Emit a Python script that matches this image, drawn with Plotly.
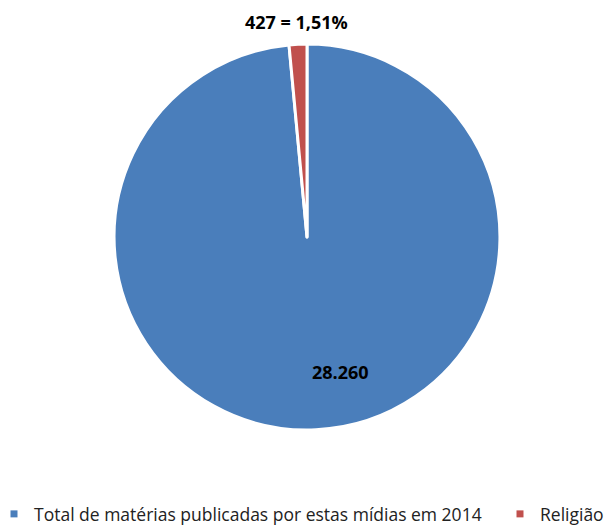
import plotly.graph_objects as go

labels = ["Total de matérias publicadas por estas mídias em 2014", "Religião"]
values = [28260, 427]
colors = ["#4A7EBB", "#C0504D"]
slice_texts = ["28.260", "427 = 1,51%"]

W, H = 608, 525

fig = go.Figure()
fig.add_trace(go.Pie(
    labels=labels,
    values=values,
    sort=False,
    direction="clockwise",
    rotation=0,
    marker=dict(colors=colors, line=dict(color="white", width=3)),
    textinfo="none",
    hoverinfo="label+value",
    showlegend=False,
    domain=dict(x=[0.1875, 0.8224], y=[0.181, 0.916]),
))

# legend entries: one per slice, each in its own legend box
legend_ids = ["legend", "legend2"]
for lab, col, lid in zip(labels, colors, legend_ids):
    fig.add_trace(go.Scatter(
        x=[None], y=[None], mode="markers", name=lab,
        marker=dict(symbol="square", size=7, color=col),
        legend=lid, showlegend=True, hoverinfo="skip",
    ))

ann_font = dict(size=18, color="black", family="Open Sans")
fig.add_annotation(text="<b>" + slice_texts[1] + "</b>", x=296/W, y=1-22/H,
                   xref="paper", yref="paper", showarrow=False,
                   xanchor="center", yanchor="middle", font=ann_font)
fig.add_annotation(text="<b>" + slice_texts[0] + "</b>", x=340/W, y=1-372/H,
                   xref="paper", yref="paper", showarrow=False,
                   xanchor="center", yanchor="middle", font=ann_font)

leg_common = dict(orientation="h", xanchor="left", yanchor="bottom", y=-7/H,
                  font=dict(size=17.5, color="#222"), itemsizing="trace",
                  bgcolor="rgba(0,0,0,0)")

fig.update_layout(
    width=W, height=H,
    margin=dict(l=0, r=0, t=0, b=0, autoexpand=False),
    paper_bgcolor="white",
    plot_bgcolor="white",
    xaxis=dict(visible=False),
    yaxis=dict(visible=False),
    font=dict(family="Open Sans", size=15, color="#222"),
    showlegend=True,
    legend=dict(x=-6/W, **leg_common),
    legend2=dict(x=500/W, **leg_common),
)

fig.write_html("out.html")
